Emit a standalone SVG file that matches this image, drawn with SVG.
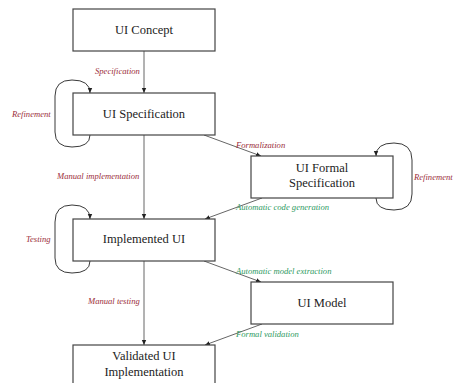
<svg xmlns="http://www.w3.org/2000/svg" width="455" height="383" viewBox="0 0 455 383">
<defs>
<marker id="ah" markerWidth="6" markerHeight="6" refX="5" refY="3" orient="auto" markerUnits="userSpaceOnUse">
<path d="M0,0.8 L5,3 L0,5.2 Z" fill="#222"/>
</marker>
</defs>
<style>
text{font-family:'Liberation Serif','Times New Roman',Times,serif}
.box{fill:#fff;stroke:#444;stroke-width:1.2}
.bt{font-size:12.5px;fill:#222;text-anchor:middle}
.lbl{font-size:8.6px;font-style:italic}
.red{fill:#9b2d3a}
.green{fill:#2e9a62}
.c{fill:none;stroke:#555;stroke-width:0.9;marker-end:url(#ah)}
.loop{fill:none;stroke:#222;stroke-width:0.9;marker-end:url(#ah)}
</style>
<rect width="455" height="383" fill="#fff"/>
<g id="connectors" font-family="Liberation Serif, serif">
<path class="c" d="M144,51 L144,93"/>
<path class="c" d="M144,135 L144,219"/>
<path class="c" d="M144,261 L144,345"/>
<path class="c" d="M204,135 L261,156"/>
<path class="c" d="M262,198 L205,219"/>
<path class="c" d="M204,261 L261,282"/>
<path class="c" d="M262,324 L205,345"/>
<path class="loop" d="M90,135 Q90,147 72,147 Q55,147 55,132 L55,96 Q55,80 72,80 Q90,80 90,93"/>
<path class="loop" d="M90,261 Q90,273 72,273 Q55,273 55,258 L55,222 Q55,205 72,205 Q90,205 90,219"/>
<path class="loop" d="M376,198 Q376,210 394,210 Q412,210 412,194 L412,160 Q412,143 394,143 Q376,143 376,156"/>
<text class="lbl red" x="95" y="74">Specification</text>
<text class="lbl red" x="12" y="117">Refinement</text>
<text class="lbl red" x="236" y="148">Formalization</text>
<text class="lbl red" x="57" y="179">Manual implementation</text>
<text class="lbl red" x="414" y="180">Refinement</text>
<text class="lbl green" x="236" y="210">Automatic code generation</text>
<text class="lbl red" x="26" y="242">Testing</text>
<text class="lbl green" x="236" y="274">Automatic model extraction</text>
<text class="lbl red" x="88" y="304">Manual testing</text>
<text class="lbl green" x="236" y="337">Formal validation</text>
</g>
<g font-family="Liberation Serif, serif">
<g id="ui-concept"><rect class="box" x="73" y="9" width="142" height="42"/><text class="bt" x="144" y="34">UI Concept</text></g>
<g id="ui-specification"><rect class="box" x="73" y="93" width="142" height="42"/><text class="bt" x="144" y="118">UI Specification</text></g>
<g id="ui-formal-specification"><rect class="box" x="251" y="156" width="142" height="42"/><text class="bt" x="322" y="172">UI Formal</text><text class="bt" x="322" y="187">Specification</text></g>
<g id="implemented-ui"><rect class="box" x="73" y="219" width="142" height="42"/><text class="bt" x="144" y="243">Implemented UI</text></g>
<g id="ui-model"><rect class="box" x="251" y="282" width="142" height="42"/><text class="bt" x="322" y="307">UI Model</text></g>
<g id="validated-ui-implementation"><rect class="box" x="73" y="345" width="142" height="42"/><text class="bt" x="144" y="360">Validated UI</text><text class="bt" x="144" y="376">Implementation</text></g>
</g>
</svg>
